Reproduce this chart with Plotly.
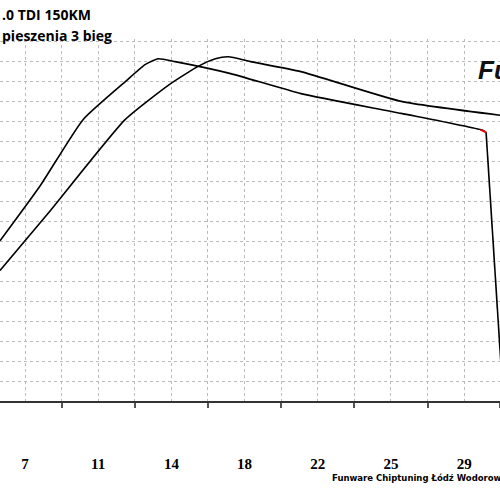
import plotly.graph_objects as go

labels = ["7", "11", "14", "18", "22", "25", "29"]
label_pos = [0, 1, 2, 3, 4, 5, 6]

a_x = [-0.342, 0.205, 0.795, 1.37, 1.64, 1.82, 2.05, 2.81, 3.77, 5.14, 6.26, 6.30]
a_y = [8.01, 10.75, 14.08, 15.97, 16.82, 17.11, 16.97, 16.37, 15.37, 14.38, 13.53, 13.43]
drop_x = [6.30, 6.51]
drop_y = [13.43, 1.44]
b_x = [-0.342, 0.342, 1.37, 1.99, 2.36, 2.60, 2.78, 3.08, 3.77, 5.14, 6.51]
b_y = [6.52, 9.50, 14.08, 15.87, 16.72, 17.11, 17.21, 16.97, 16.47, 14.98, 14.28]
red_x = [6.22, 6.30]
red_y = [13.56, 13.43]

fig = go.Figure()
fig.add_trace(go.Scatter(x=a_x, y=a_y, mode="lines", line=dict(color="black", width=1.6, shape="spline", smoothing=0.5)))
fig.add_trace(go.Scatter(x=drop_x, y=drop_y, mode="lines", line=dict(color="black", width=1.6)))
fig.add_trace(go.Scatter(x=b_x, y=b_y, mode="lines", line=dict(color="black", width=1.6, shape="spline", smoothing=0.5)))
fig.add_trace(go.Scatter(x=red_x, y=red_y, mode="lines", line=dict(color="red", width=1.8)))

fig.update_layout(
    width=500, height=500, showlegend=False,
    margin=dict(l=0, r=0, t=39, b=99, autoexpand=False),
    plot_bgcolor="white", paper_bgcolor="white",
    xaxis=dict(range=[-0.342, 6.49], tickvals=label_pos, ticktext=labels,
               showgrid=True, gridcolor="#bbbbbb", griddash="dot", gridwidth=1,
               ticks="", showline=True, linecolor="#333", linewidth=2,
               ticklabelstandoff=48, zeroline=False,
               tickfont=dict(family="Liberation Serif", size=15, color="black", weight="bold"),
               minor=dict(tickvals=[0.5, 1.5, 2.5, 3.5, 4.5, 5.5, 6.49], showgrid=True,
                          gridcolor="#bbbbbb", griddash="dot", ticks="outside",
                          ticklen=5, tickcolor="#555", tickwidth=2)),
    yaxis=dict(range=[0, 18.1], dtick=1, showgrid=True, gridcolor="#bbbbbb",
               griddash="dot", showticklabels=False, zeroline=False, ticks=""),
)
fig.add_annotation(text=".0 TDI 150KM", x=0, y=1+(39-15)/362, xref="paper", yref="paper", showarrow=False,
                   xanchor="left", yanchor="middle",
                   font=dict(family="Open Sans", size=14, color="black", weight="bold"))
fig.add_annotation(text="pieszenia 3 bieg", x=0, y=1+(39-36)/362, xref="paper", yref="paper",
                   showarrow=False, xanchor="left", yanchor="middle",
                   font=dict(family="Open Sans", size=14, color="black", weight="bold"))
fig.add_annotation(text="<i>Fu</i>", x=476/500, y=1-(70-39)/362, xref="paper", yref="paper",
                   showarrow=False, xanchor="left", yanchor="middle",
                   font=dict(family="Liberation Sans", size=26, color="#111", weight="bold"))
fig.add_annotation(text="Funware Chiptuning Łódź Wodorowanie", x=330/500, y=-(478-401)/362,
                   xref="paper", yref="paper", showarrow=False, xanchor="left", yanchor="middle",
                   font=dict(family="DejaVu Sans", size=8.5, color="black", weight="bold"))
fig.write_html("out.html", config={"displayModeBar": False},
               post_script="document.body.style.margin='0';document.body.style.overflow='hidden';")
